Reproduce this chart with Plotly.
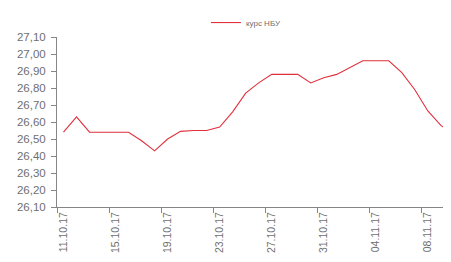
import plotly.graph_objects as go

dates = ["11.10.17","12.10.17","13.10.17","14.10.17","15.10.17","16.10.17","17.10.17",
         "18.10.17","19.10.17","20.10.17","21.10.17","22.10.17","23.10.17","24.10.17",
         "25.10.17","26.10.17","27.10.17","28.10.17","29.10.17","30.10.17","31.10.17",
         "01.11.17","02.11.17","03.11.17","04.11.17","05.11.17","06.11.17","07.11.17",
         "08.11.17","09.11.17","10.11.17"]
rate = [26.54, 26.63, 26.54, 26.54, 26.54, 26.54, 26.49,
        26.43, 26.50, 26.545, 26.55, 26.55, 26.57, 26.66,
        26.77, 26.83, 26.88, 26.88, 26.88, 26.83, 26.86,
        26.88, 26.92, 26.96, 26.96, 26.96, 26.89, 26.79,
        26.665, 26.58, 26.53]
series_name = "курс НБУ"
y_ticks = [26.10, 26.20, 26.30, 26.40, 26.50, 26.60, 26.70, 26.80, 26.90, 27.00, 27.10]
label_every = 4

idx = list(range(len(dates)))
lab_idx = idx[::label_every]
lab_text = [dates[i] for i in lab_idx]

fig = go.Figure()
fig.add_trace(go.Scatter(x=idx, y=rate, mode="lines", name=series_name,
                         line=dict(color="#e0303c", width=1.1)))

axis_color = "#868686"
font_color = "#6f6f6f"

# page body has an 8px margin; size the figure to fit inside the 451x262 window
fig.update_layout(
    width=443, height=254,
    margin=dict(l=49, r=0, t=23, b=55),
    paper_bgcolor="white", plot_bgcolor="white",
    showlegend=True,
    legend=dict(orientation="h", x=0.378, xanchor="left", y=1.085, yanchor="middle",
                font=dict(size=8, color=font_color, family="Liberation Sans"),
                itemwidth=30, bgcolor="rgba(0,0,0,0)"),
    xaxis=dict(range=[-0.5, 29.78], showgrid=False, zeroline=False, automargin=False,
               showline=True, linecolor=axis_color, linewidth=1,
               tickmode="array", tickvals=lab_idx, ticktext=lab_text,
               ticks="", tickangle=-90,
               tickfont=dict(size=10.5, color=font_color, family="Liberation Sans"),
               minor=dict(tickmode="array", tickvals=[i - 0.5 for i in lab_idx],
                          ticks="outside", ticklen=5, tickcolor=axis_color, showgrid=False)),
    yaxis=dict(range=[26.10, 27.10], showgrid=False, zeroline=False, automargin=False,
               showline=True, linecolor=axis_color, linewidth=1,
               tickmode="array", tickvals=y_ticks,
               ticktext=[f"{v:.2f}".replace(".", ",") for v in y_ticks],
               ticks="outside", ticklen=5, tickcolor=axis_color, ticklabelstandoff=3,
               tickfont=dict(size=11.5, color=font_color, family="Liberation Sans")),
)

fig.write_html("out.html")
